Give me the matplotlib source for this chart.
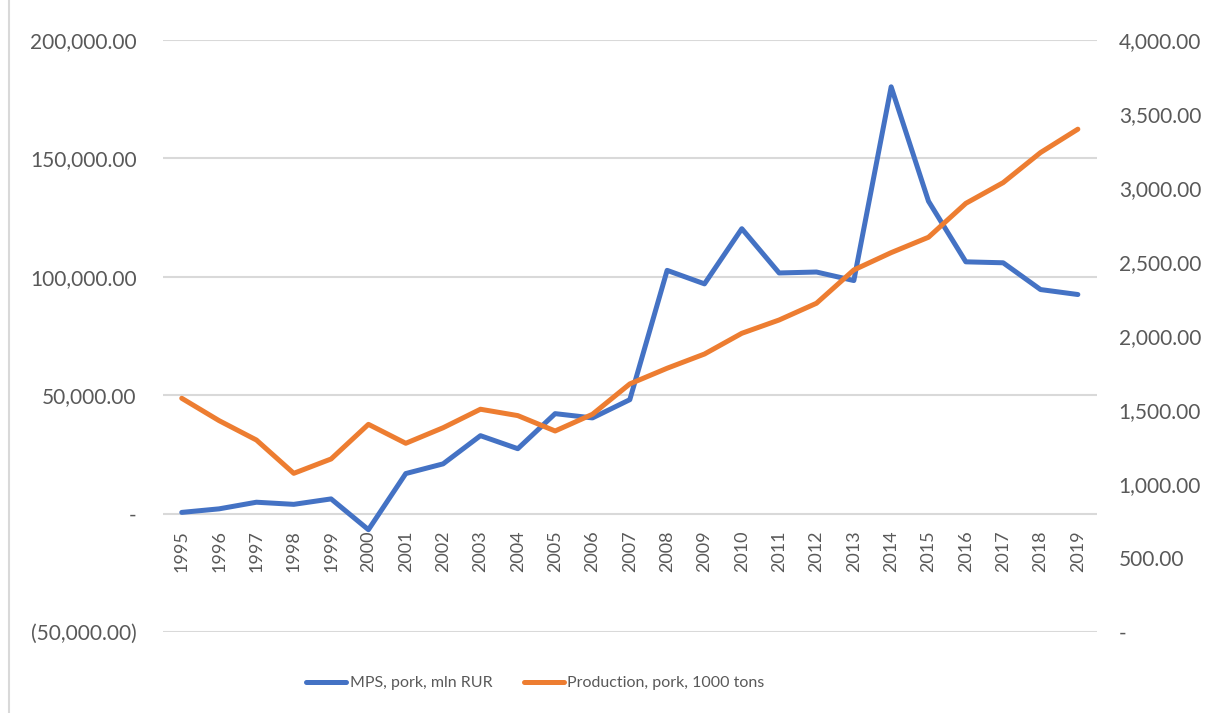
import matplotlib.pyplot as plt
import matplotlib.ticker as mticker
from matplotlib.lines import Line2D

years = list(range(1995, 2020))
mps_pork = [500, 2000, 4800, 3900, 6200, -6800, 16900, 21000, 32900, 27400,
            42200, 40400, 48100, 102700, 97000, 120300, 101600, 102000, 98400,
            180200, 131900, 106300, 105900, 94600, 92500]
production_pork = [1579, 1428, 1297, 1072, 1169, 1403, 1275, 1380, 1505, 1462,
                   1358, 1471, 1676, 1782, 1878, 2018, 2108, 2221, 2446,
                   2563, 2667, 2896, 3036, 3239, 3397]

BLUE = "#4472C4"
ORANGE = "#ED7D31"
TEXT = "#595959"
GRID = "#D9D9D9"

plt.rcParams["font.family"] = ["Lato", "DejaVu Sans"]


def acct_fmt(v, pos=None):
    # accounting style: dash for zero, parentheses for negatives
    if abs(v) < 1e-9:
        return "-"
    if v < 0:
        return f"({abs(v):,.2f})"
    return f"{v:,.2f}"


fig = plt.figure(figsize=(12.17, 7.13), dpi=100)
ax = fig.add_axes([0.134, 0.1136, 0.767, 0.8304])
ax2 = ax.twinx()

x = list(range(len(years)))
ax.plot(x, mps_pork, color=BLUE, lw=3.6, solid_capstyle="round", zorder=3)
ax2.plot(x, production_pork, color=ORANGE, lw=3.6, solid_capstyle="round", zorder=3)

ax.set_ylim(-50000, 200000)
ax.set_yticks(range(-50000, 200001, 50000))
ax.yaxis.set_major_formatter(mticker.FuncFormatter(acct_fmt))
ax2.set_ylim(0, 4000)
ax2.set_yticks(range(0, 4001, 500))
ax2.yaxis.set_major_formatter(mticker.FuncFormatter(acct_fmt))

ax.set_xlim(-0.5, len(years) - 0.5)
ax.grid(axis="y", color=GRID, lw=1.5)
ax.set_axisbelow(True)

for a in (ax, ax2):
    for s in a.spines.values():
        s.set_visible(False)
    a.tick_params(length=0, labelsize=15, labelcolor=TEXT)
ax.tick_params(axis="y", pad=19)
ax2.tick_params(axis="y", pad=16)

# year labels sit just under the zero line
ax.set_xticks(x)
ax.set_xticklabels([])
for i, yr in enumerate(years):
    ax.annotate(str(yr), xy=(i, 0), xycoords="data", xytext=(0, -12),
                textcoords="offset points", rotation=90, ha="center", va="top",
                fontsize=13, color=TEXT)

handles = [Line2D([], [], color=BLUE, lw=3.6, solid_capstyle="round"),
           Line2D([], [], color=ORANGE, lw=3.6, solid_capstyle="round")]
fig.legend(handles, ["MPS, pork, mln RUR", "Production, pork, 1000 tons"],
           loc="center", bbox_to_anchor=(0.44, 0.042), ncol=2, frameon=False,
           fontsize=11.5, labelcolor=TEXT, handlelength=2.5, handletextpad=0.2,
           columnspacing=2.0)

# chart border on the left edge
fig.add_artist(Line2D([0.0075, 0.0075], [0, 1], color=GRID, lw=1.5,
                      transform=fig.transFigure))

fig.savefig("out.png", dpi=100)
